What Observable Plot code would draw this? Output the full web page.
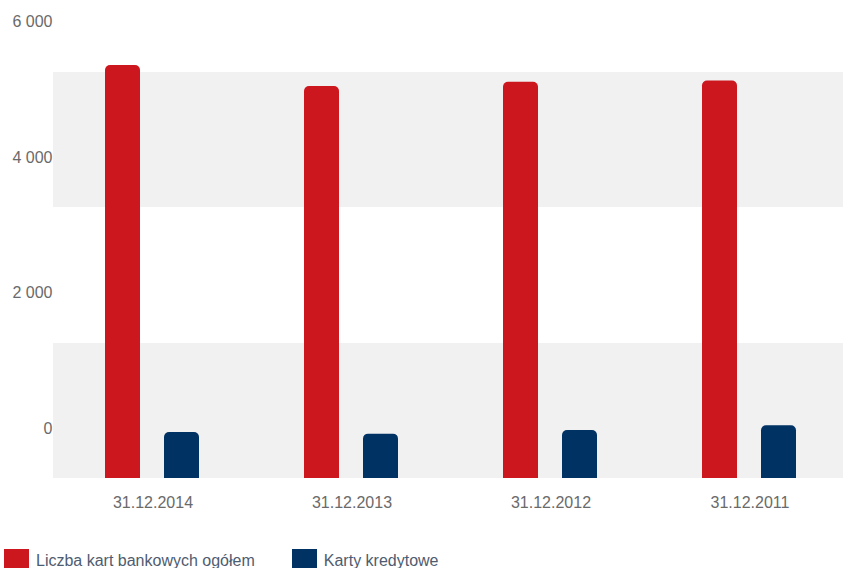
<!DOCTYPE html>
<html>
<head>
<meta charset="utf-8">
<script src="https://cdn.jsdelivr.net/npm/d3@7"></script>
<script src="https://cdn.jsdelivr.net/npm/@observablehq/plot@0.6"></script>
<style>
  html, body { margin: 0; padding: 0; background: #fff; }
  body { width: 843px; height: 568px; overflow: hidden; font-family: "Liberation Sans", Arial, sans-serif; }
  #chart { width: 843px; height: 530px; overflow: hidden; }
  #chart svg { max-width: none !important; display: block; }
  #legend { display: flex; align-items: flex-start; margin-top: 19px; margin-left: 4px; font-size: 16px; color: #4e5c70; }
  .item { display: flex; align-items: flex-start; margin-right: 37px; }
  .sw { width: 25px; height: 20px; margin-right: 7px; }
  .lbl { line-height: 22px; margin-top: 1px; white-space: nowrap; }
</style>
</head>
<body>
<div id="chart"></div>
<div id="legend"></div>
<script>
const dates = ["31.12.2014", "31.12.2013", "31.12.2012", "31.12.2011"];
const seriesNames = ["Liczba kart bankowych ogółem", "Karty kredytowe"];
const totalCards = [6100, 5790, 5850, 5870];
const creditCards = [680, 655, 710, 780];
const yTicks = [0, 2000, 4000, 6000];
const bandRanges = [[0, 2000], [4000, 6000]];
const colors = ["#cc171f", "#003263"];

const data = [];
dates.forEach((d, i) => {
  data.push({date: d, series: seriesNames[0], value: totalCards[i]});
  data.push({date: d, series: seriesNames[1], value: creditCards[i]});
});
const bands = bandRanges.map(([a, b]) => ({y1: a, y2: b}));

const H = 530;
const fmt = v => d3.format(",")(v).replace(/,/g, " ");

const chart = Plot.plot({
  width: 849,
  height: H,
  marginLeft: 52,
  marginRight: 0,
  marginTop: 4,
  marginBottom: H - 478,
  style: {fontFamily: "Liberation Sans, Arial, sans-serif", fontSize: "16px", color: "#6a6a6a", background: "#fff", maxWidth: "none"},
  fx: {domain: dates, padding: 0, label: null, axis: "bottom", tickSize: 0, tickPadding: 18},
  x: {domain: seriesNames, paddingInner: 0.4, paddingOuter: 0.86, axis: null},
  y: {domain: [0, 7000], axis: null},
  color: {domain: seriesNames, range: colors},
  marks: [
    Plot.rect(bands, {y1: "y1", y2: "y2", fill: "#f1f1f1", shapeRendering: "crispEdges"}),
    Plot.rectY(data, {fx: "date", x: "series", y1: d => -300, y2: "value", fill: "series", rx: 5, clip: true}),
    Plot.axisY(yTicks, {ticks: yTicks, tickSize: 0, tickPadding: 1, dy: -50, tickFormat: fmt, fill: "#6a6a6a", fontSize: 16, label: null})
  ]
});
document.getElementById("chart").appendChild(chart);

const legend = document.getElementById("legend");
seriesNames.forEach((s, i) => {
  const it = document.createElement("div");
  it.className = "item";
  const sw = document.createElement("div");
  sw.className = "sw";
  sw.style.background = colors[i];
  const lb = document.createElement("div");
  lb.className = "lbl";
  lb.textContent = s;
  it.appendChild(sw);
  it.appendChild(lb);
  legend.appendChild(it);
});
</script>
</body>
</html>
